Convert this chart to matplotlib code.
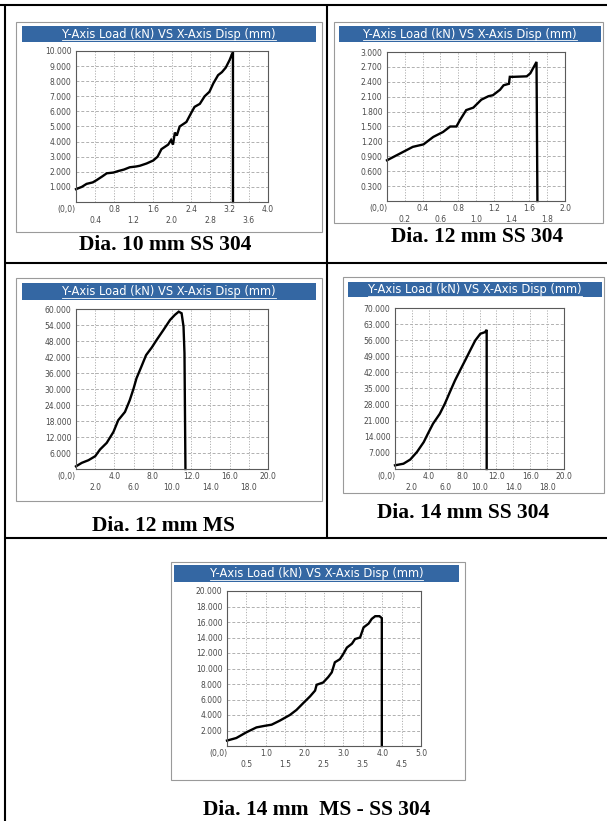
import matplotlib.pyplot as plt
from matplotlib.patches import Rectangle


FIG_W, FIG_H = 607, 821
DPI = 100

TITLE = "Y-Axis Load (kN) VS X-Axis Disp (mm)"
CAPTIONS = [
    "Dia. 10 mm SS 304",
    "Dia. 12 mm SS 304",
    "Dia. 12 mm MS",
    "Dia. 14 mm SS 304",
    "Dia. 14 mm  MS - SS 304",
]

# axis ranges as shown on the instrument screenshots
x_max = [4.0, 2.0, 20.0, 20.0, 5.0]
x_step = [0.4, 0.2, 2.0, 2.0, 0.5]
y_max = [10.0, 3.0, 60.0, 70.0, 20.0]
y_step = [1.0, 0.3, 6.0, 7.0, 2.0]

# load (kN) vs displacement (mm)
d10_ss_disp = [0.0, 0.12, 0.22, 0.35, 0.43, 0.55, 0.64, 0.78, 0.88, 1.0, 1.12, 1.25, 1.33, 1.47,
               1.61, 1.70, 1.78, 1.85, 1.92, 1.98, 2.02, 2.06, 2.10, 2.16, 2.30, 2.40, 2.47,
               2.58, 2.68, 2.78, 2.86, 2.96, 3.04, 3.12, 3.20, 3.27, 3.27]
d10_ss_load = [0.85, 1.0, 1.2, 1.3, 1.45, 1.7, 1.9, 1.95, 2.05, 2.15, 2.3, 2.35, 2.4, 2.55,
               2.75, 3.0, 3.5, 3.65, 3.8, 4.1, 3.8, 4.6, 4.4, 5.0, 5.3, 5.9, 6.3,
               6.5, 7.0, 7.3, 7.85, 8.4, 8.6, 8.9, 9.4, 9.95, 0.0]

d12_ss_disp = [0.0, 0.14, 0.29, 0.41, 0.52, 0.63, 0.71, 0.78, 0.82, 0.89, 0.97, 1.06, 1.14,
               1.19, 1.27, 1.31, 1.37, 1.38, 1.42, 1.57, 1.61, 1.68, 1.69]
d12_ss_load = [0.82, 0.95, 1.09, 1.14, 1.29, 1.39, 1.5, 1.5, 1.63, 1.83, 1.88, 2.04, 2.11,
               2.13, 2.24, 2.33, 2.36, 2.5, 2.5, 2.51, 2.57, 2.8, 0.0]

d12_ms_disp = [0.0, 0.6, 1.3, 2.0, 2.5, 3.2, 3.9, 4.4, 5.1, 5.6, 6.0, 6.3, 6.8, 7.3, 7.9, 8.4,
               9.1, 9.8, 10.3, 10.7, 11.0, 11.2, 11.3, 11.4]
d12_ms_load = [1.0, 2.3, 3.3, 4.8, 7.3, 9.8, 13.9, 18.3, 21.4, 25.8, 30.2, 34.0, 38.3, 42.7,
               45.6, 48.4, 52.1, 55.9, 57.8, 59.0, 58.4, 53.4, 43.4, 0.0]

d14_ss_disp = [0.0, 1.0, 1.8, 2.6, 3.4, 3.9, 4.5, 5.3, 5.9, 6.5, 7.1, 7.7, 8.3, 8.9, 9.5,
               10.1, 10.65, 10.85, 10.85]
d14_ss_load = [1.6, 2.3, 4.1, 7.4, 11.7, 15.4, 19.7, 24.0, 28.4, 33.5, 38.5, 42.9, 47.2,
               51.6, 55.9, 58.8, 59.5, 60.5, 0.0]

d14_mix_disp = [0.0, 0.24, 0.5, 0.76, 0.97, 1.15, 1.36, 1.62, 1.79, 1.97, 2.14, 2.27, 2.31,
                2.48, 2.61, 2.70, 2.78, 2.91, 3.0, 3.09, 3.22, 3.30, 3.43, 3.52, 3.65, 3.73,
                3.82, 3.93, 3.99, 3.99]
d14_mix_load = [0.7, 1.03, 1.77, 2.4, 2.6, 2.75, 3.27, 4.0, 4.65, 5.56, 6.4, 7.15, 7.9, 8.2,
                8.9, 9.5, 10.8, 11.2, 11.9, 12.7, 13.2, 13.8, 14.0, 15.3, 15.8, 16.4, 16.75,
                16.75, 16.5, 0.0]

DISP = [d10_ss_disp, d12_ss_disp, d12_ms_disp, d14_ss_disp, d14_mix_disp]
LOAD = [d10_ss_load, d12_ss_load, d12_ms_load, d14_ss_load, d14_mix_load]

# pixel layout (left, top, right, bottom) of each screenshot panel
BOXES = [(16, 22, 322, 232), (334, 22, 603, 223), (16, 278, 322, 501),
         (343, 277, 604, 493), (171, 562, 465, 780)]
BARS = [(22, 26, 316, 42), (339, 26, 601, 42), (22, 283, 316, 300),
        (348, 282, 602, 297), (174, 565, 459, 582)]
PLOTS = [(76, 51, 268, 202), (387, 52, 565, 201), (76, 309, 268, 469),
         (395, 308, 564, 469), (227, 591, 421, 746)]
CAPTION_XY = [(165, 245), (477, 237), (163, 526), (463, 513), (317, 810)]

BAR_COLOR = "#3467a3"
GRID_COLOR = "#b0b0b0"


def px_rect(left, top, right, bottom):
    return [left / FIG_W, 1 - bottom / FIG_H, (right - left) / FIG_W, (bottom - top) / FIG_H]


def _draw_table(base):
    kw = dict(color="black", lw=1.5, solid_capstyle="butt")
    base.plot([0, FIG_W], [5, 5], **kw)
    base.plot([5, 5], [5, FIG_H], **kw)
    base.plot([327, 327], [5, 538], **kw)
    base.plot([5, FIG_W], [263, 263], **kw)
    base.plot([5, FIG_W], [538, 538], **kw)


def _draw_frame(base, box, bar):
    left, top, right, bottom = box
    base.add_patch(Rectangle((left, top), right - left, bottom - top,
                             facecolor="white", edgecolor="#9a9a9a", lw=0.8))
    left, top, right, bottom = bar
    base.add_patch(Rectangle((left, top), right - left, bottom - top,
                             facecolor=BAR_COLOR, edgecolor="none"))
    return base.text((left + right) / 2, (top + bottom) / 2 + 0.5, TITLE, color="white",
                     fontsize=8.3, ha="center", va="center", family="DejaVu Sans")


def _draw_plot(fig, rect, disp, load, xmax, xstep, ymax, ystep):
    ax = fig.add_axes(px_rect(*rect))
    ax.set_facecolor("white")
    n_x = round(xmax / xstep)
    x_values = [i * xstep for i in range(n_x + 1)]
    major = x_values[0::2]
    minor = x_values[1::2]
    ax.set_xticks(major, ["(0,0)"] + [f"{v:.1f}" for v in major[1:]])
    ax.set_xticks(minor, [f"{v:.1f}" for v in minor], minor=True)
    ax.get_xticklabels()[0].set_ha("right")

    n_y = round(ymax / ystep)
    y_values = [i * ystep for i in range(1, n_y + 1)]
    ax.set_yticks(y_values, [f"{v:.3f}" for v in y_values])

    ax.set_xlim(0, xmax)
    ax.set_ylim(0, ymax)
    ax.tick_params(which="both", length=0, labelsize=5.5, labelcolor="#4a4a4a")
    ax.tick_params(axis="x", which="major", pad=2.3)
    ax.tick_params(axis="x", which="minor", pad=10.3)
    ax.tick_params(axis="y", pad=3.3)

    ax.grid(True, axis="x", which="both", ls=(0, (1.2, 1.6)), color=GRID_COLOR, lw=0.7)
    ax.grid(True, axis="y", which="major", ls=(0, (3, 2)), color=GRID_COLOR, lw=0.7)
    ax.set_axisbelow(True)
    for spine in ax.spines.values():
        spine.set_color("#5a5a5a")
        spine.set_linewidth(0.8)

    ax.plot(disp, load, color="black", lw=1.7, solid_joinstyle="miter", clip_on=False)
    return ax


def main():
    fig = plt.figure(figsize=(FIG_W / DPI, FIG_H / DPI), dpi=DPI)
    base = fig.add_axes([0, 0, 1, 1])
    base.set_xlim(0, FIG_W)
    base.set_ylim(FIG_H, 0)
    base.axis("off")

    _draw_table(base)

    titles = []
    for index in range(5):
        titles.append(_draw_frame(base, BOXES[index], BARS[index]))
        _draw_plot(fig, PLOTS[index], DISP[index], LOAD[index],
                   x_max[index], x_step[index], y_max[index], y_step[index])
        cx, cy = CAPTION_XY[index]
        base.text(cx, cy, CAPTIONS[index], ha="center", va="center", fontsize=15.5,
                  fontweight="bold", family=["Liberation Serif", "DejaVu Serif"])

    # underline the title text of each bar
    fig.canvas.draw()
    renderer = fig.canvas.get_renderer()
    inv = base.transData.inverted()
    for text in titles:
        bb = text.get_window_extent(renderer)
        (x0, y0), (x1, _) = inv.transform([(bb.x0, bb.y0 + 0.5), (bb.x1, bb.y0 + 0.5)])
        base.plot([x0, x1], [y0, y0], color="white", lw=0.6)

    fig.savefig("out.png", dpi=DPI)


main()
